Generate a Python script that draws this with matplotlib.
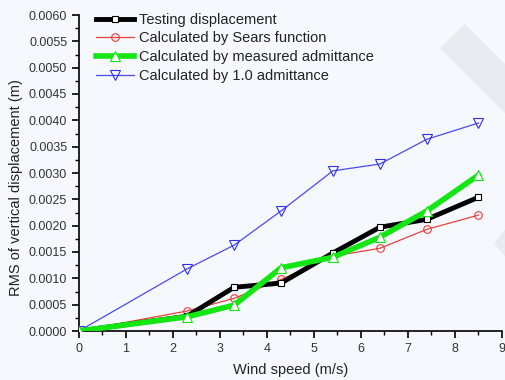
import matplotlib
matplotlib.use("Agg")
import matplotlib.pyplot as plt
from matplotlib.patches import Polygon
from matplotlib.ticker import MultipleLocator, FormatStrFormatter

wind = [0, 2.3, 3.3, 4.3, 5.4, 6.4, 7.4, 8.5]
testing = [0, 0.00028, 0.00083, 0.00091, 0.00148, 0.00197, 0.00212, 0.00254]
sears = [0, 0.00038, 0.00062, 0.00098, 0.00142, 0.00157, 0.00193, 0.00220]
measured = [0, 0.00027, 0.00049, 0.00120, 0.00140, 0.00178, 0.00228, 0.00296]
unit_adm = [0, 0.00118, 0.00163, 0.00228, 0.00304, 0.00317, 0.00364, 0.00395]

labels = ["Testing displacement", "Calculated by Sears function",
          "Calculated by measured admittance", "Calculated by 1.0 admittance"]

plt.rcParams['font.family'] = ['Liberation Sans', 'DejaVu Sans']
bg = '#f5f9fd'
fig = plt.figure(figsize=(5.06, 3.8), dpi=100, facecolor=bg)

# faint watermark band
W, H = 506, 380
def fc(pts):
    return [(x / W, 1 - y / H) for x, y in pts]
fig.patches.append(Polygon(fc([(440, 48), (465, 24), (506, 65), (506, 114)]),
                           closed=True, transform=fig.transFigure,
                           facecolor='#e8ebef', edgecolor='none', zorder=0))
fig.patches.append(Polygon(fc([(494, 243), (506, 228), (506, 258)]),
                           closed=True, transform=fig.transFigure,
                           facecolor='#e8ebef', edgecolor='none', zorder=0))

ax = fig.add_axes([79 / W, 1 - 331 / H, (502 - 79) / W, (331 - 15) / H])
ax.set_facecolor('none')

ax.plot(wind, testing, color='black', lw=3.5, marker='s', ms=4.5,
        mfc='white', mec='black', mew=0.8, label=labels[0], zorder=4)
ax.plot(wind, sears, color='#e8403c', lw=0.9, marker='o', ms=5.5,
        mfc='none', mec='#e8403c', mew=0.8, label=labels[1], zorder=3)
ax.plot(wind, measured, color='#14e614', lw=4, marker='^', ms=6.5,
        mfc='white', mec='#14e614', mew=0.8, label=labels[2], zorder=5)
ax.plot(wind, unit_adm, color='#4a4ae8', lw=0.9, marker='v', ms=6.5,
        mfc='none', mec='#3030e8', mew=0.8, label=labels[3], zorder=3)

ax.set_xlim(0, 9)
ax.set_ylim(0, 0.006)
ax.xaxis.set_major_locator(MultipleLocator(1))
ax.xaxis.set_minor_locator(MultipleLocator(0.5))
ax.yaxis.set_major_locator(MultipleLocator(0.0005))
ax.yaxis.set_minor_locator(MultipleLocator(0.00025))
ax.yaxis.set_major_formatter(FormatStrFormatter('%.4f'))

for s in ['top', 'right']:
    ax.spines[s].set_visible(False)
for s in ['left', 'bottom']:
    ax.spines[s].set_linewidth(1.2)
ax.tick_params(which='major', direction='out', length=5, width=1.2,
               labelsize=9, colors='black', labelcolor='#333333')
ax.tick_params(which='minor', direction='out', length=3, width=1)

ax.set_xlabel('Wind speed (m/s)', fontsize=10.5, color='#222222', labelpad=6)
ax.set_ylabel('RMS of vertical displacement (m)', fontsize=10.5,
              color='#222222')
ax.yaxis.set_label_coords(-0.133, 0.455)

leg = ax.legend(loc='upper left', bbox_to_anchor=(0.02, 1.035), frameon=False,
                fontsize=10.5, handlelength=2.6, handletextpad=0.3,
                labelspacing=0.32, borderaxespad=0.2)
for t in leg.get_texts():
    t.set_color('#222222')

fig.savefig('out.png', dpi=100, facecolor=bg)
